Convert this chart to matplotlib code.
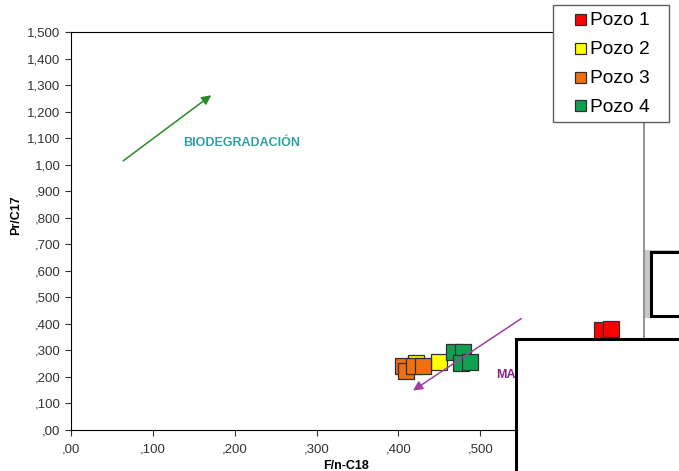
import matplotlib
matplotlib.use('Agg')
import matplotlib.pyplot as plt
from matplotlib.patches import Rectangle

plt.rcParams['font.family'] = ['Liberation Sans', 'DejaVu Sans']

# data
pozo1_x = [0.649, 0.660]
pozo1_y = [0.377, 0.381]
pozo2_x = [0.421, 0.450]
pozo2_y = [0.253, 0.257]
pozo3_x = [0.405, 0.409, 0.419, 0.430]
pozo3_y = [0.242, 0.223, 0.242, 0.242]
pozo4_x = [0.468, 0.479, 0.476, 0.488]
pozo4_y = [0.294, 0.294, 0.253, 0.257]

series = [('Pozo 1', pozo1_x, pozo1_y, '#ff0000'),
          ('Pozo 2', pozo2_x, pozo2_y, '#ffff00'),
          ('Pozo 3', pozo3_x, pozo3_y, '#f07010'),
          ('Pozo 4', pozo4_x, pozo4_y, '#10a050')]

xticks = [0, 0.1, 0.2, 0.3, 0.4, 0.5]
xlabels = [',00', ',100', ',200', ',300', ',400', ',500']
yticks = [i / 10 for i in range(16)]
ylabels = [',00', ',100', ',200', ',300', ',400', ',500', ',600', ',700', ',800', ',900',
           '1,00', '1,100', '1,200', '1,300', '1,400', '1,500']

W, H = 679, 471
fig = plt.figure(figsize=(6.79, 4.71), dpi=100, facecolor='white')
ax = fig.add_axes([71 / W, 1 - 430 / H, 573 / W, 398 / H])

handles = []
for name, xs, ys, c in series:
    h, = ax.plot(xs, ys, 's', ms=11, mfc=c, mec='#303030', mew=0.9, label=name, clip_on=False)
    handles.append(h)

ax.set_xlim(0, 0.7)
ax.set_ylim(0, 1.5)
ax.set_xticks(xticks)
ax.set_xticklabels(xlabels)
ax.set_yticks(yticks)
ax.set_yticklabels(ylabels)
ax.tick_params(direction='out', length=4, width=0.8, labelsize=9.5, colors='#333333')
ax.tick_params(axis='x', pad=6)
for s in ['left', 'bottom', 'top']:
    ax.spines[s].set_color('black')
ax.spines['right'].set_color('#808080')
ax.spines['right'].set_linewidth(1.2)

ax.set_xlabel('F/n-C18', fontsize=9, fontweight='bold')
ax.xaxis.set_label_coords(0.48, -0.075)
ax.set_ylabel('Pr/C17', fontsize=9, fontweight='bold')
ax.yaxis.set_label_coords(-0.085, 0.54)

# arrows
ax.annotate('', xy=(0.174, 1.268), xytext=(0.061, 1.008),
            arrowprops=dict(arrowstyle='-|>', color='#2a8a2a', lw=1.1, mutation_scale=14))
ax.text(0.137, 1.083, 'BIODEGRADACIÓN', color='#30a0a0', fontsize=9, fontweight='bold', va='center')
ax.annotate('', xy=(0.415, 0.143), xytext=(0.553, 0.426),
            arrowprops=dict(arrowstyle='-|>', color='#a040a0', lw=1.1, mutation_scale=14))
ax.text(0.519, 0.208, 'MADUREZ', color='#902090', fontsize=9, fontweight='bold', va='center')

# legend box + entries
fig.patches.append(Rectangle((553 / W, 1 - 122 / H), 116 / W, 117 / H, transform=fig.transFigure,
                             facecolor='white', edgecolor='#606060', lw=1.0, zorder=30))
leg = fig.legend(handles=handles, loc='upper left', bbox_to_anchor=(570 / W, 1 - 12 / H),
                 fontsize=13.8, frameon=False, handlelength=1.0, handletextpad=0.05,
                 labelspacing=0.6, borderpad=0, borderaxespad=0, markerscale=0.72)
leg.set_zorder(31)

# overlapping white boxes in the screenshot
fig.patches.append(Rectangle((645 / W, 1 - 318 / H), 0.2, 68 / H, transform=fig.transFigure,
                             facecolor='#c8c8c8', edgecolor='none', zorder=20))
fig.patches.append(Rectangle((651 / W, 1 - 316 / H), 0.2, 64 / H, transform=fig.transFigure,
                             facecolor='white', edgecolor='black', lw=2.2, zorder=21))
fig.patches.append(Rectangle((516 / W, -0.1), 0.4, 0.1 + (1 - 339 / H), transform=fig.transFigure,
                             facecolor='white', edgecolor='black', lw=2.2, zorder=22))

fig.savefig('out.png', dpi=100, facecolor='white')
